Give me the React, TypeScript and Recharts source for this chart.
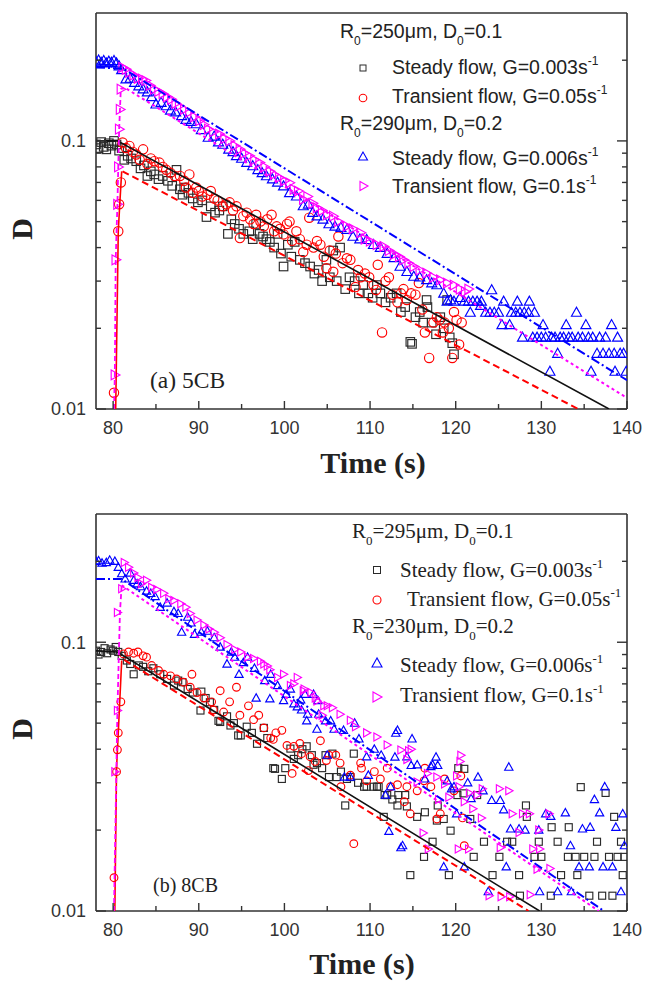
import React from 'react';
import { ScatterChart, Scatter, XAxis, YAxis } from 'recharts';

type P = [number, number];

// ---------- (a) 5CB ----------
const steadyA: P[] = [
  [78.0, 0.097], [78.3, 0.094], [78.6, 0.099], [78.9, 0.095], [79.2, 0.093], [79.5, 0.098], [79.8, 0.096],
  [80.1, 0.1], [80.4, 0.097], [80.7, 0.092], [81.0, 0.094], [81.3, 0.085], [81.7, 0.088], [82.1, 0.086],
  [82.7, 0.084], [83.2, 0.079], [83.6, 0.081], [84.0, 0.074], [84.4, 0.077], [84.8, 0.075], [85.3, 0.072],
  [85.8, 0.074], [86.4, 0.071], [86.9, 0.068], [87.4, 0.078], [87.8, 0.066], [88.1, 0.063], [88.3, 0.067],
  [88.8, 0.064], [89.3, 0.061], [89.9, 0.059], [90.4, 0.06], [90.9, 0.052], [91.4, 0.057], [91.9, 0.054],
  [92.4, 0.055], [92.8, 0.057], [93.4, 0.045], [93.8, 0.051], [94.2, 0.049], [94.7, 0.047], [95.2, 0.045],
  [95.9, 0.046], [96.3, 0.043], [96.7, 0.049], [97.1, 0.045], [97.5, 0.044], [97.9, 0.043], [98.3, 0.042],
  [98.8, 0.04], [99.2, 0.045], [99.6, 0.038], [99.9, 0.034], [100.4, 0.041], [100.8, 0.037], [101.2, 0.042],
  [101.8, 0.036], [102.4, 0.035], [103.0, 0.034], [103.5, 0.032], [104.0, 0.033], [104.4, 0.03], [104.9, 0.036],
  [105.3, 0.031], [105.7, 0.039], [106.1, 0.03], [106.5, 0.04], [107.1, 0.028], [107.6, 0.031], [108.2, 0.03],
  [108.7, 0.027], [109.2, 0.029], [109.8, 0.027], [110.3, 0.026], [110.8, 0.029], [111.2, 0.027], [111.8, 0.025],
  [112.4, 0.026], [113.1, 0.027], [113.6, 0.023], [114.1, 0.024], [114.7, 0.0178], [114.9, 0.0175], [115.3, 0.022],
  [115.8, 0.023], [116.2, 0.021], [116.6, 0.0255], [116.7, 0.024], [117.2, 0.021], [117.7, 0.019], [118.2, 0.022],
  [118.6, 0.02], [119.0, 0.0255], [119.3, 0.0185], [119.6, 0.0176], [119.8, 0.016],
];

const transientA: P[] = [
  [80.1, 0.0115], [80.6, 0.046], [80.7, 0.058], [80.9, 0.07], [81.1, 0.0986], [81.5, 0.094], [81.9, 0.0958],
  [82.3, 0.091], [82.7, 0.089], [83.1, 0.085], [83.5, 0.093], [84.0, 0.082], [84.4, 0.086], [84.8, 0.084],
  [85.4, 0.083], [85.8, 0.08], [86.2, 0.078], [86.7, 0.076], [87.2, 0.074], [87.8, 0.074], [88.3, 0.071],
  [88.5, 0.067], [88.9, 0.075], [89.3, 0.064], [89.7, 0.067], [90.0, 0.065], [90.4, 0.062], [91.0, 0.063],
  [91.4, 0.065], [91.8, 0.061], [92.2, 0.06], [92.8, 0.057], [93.2, 0.058], [93.6, 0.059], [94.0, 0.055],
  [94.4, 0.057], [94.8, 0.0434], [95.2, 0.0524], [95.6, 0.054], [96.0, 0.051], [96.4, 0.049], [96.7, 0.053],
  [97.2, 0.05], [97.6, 0.048], [98.0, 0.051], [98.5, 0.053], [98.8, 0.046], [99.1, 0.048], [99.5, 0.047],
  [99.9, 0.0448], [100.3, 0.049], [100.6, 0.05], [100.9, 0.0424], [101.4, 0.046], [101.8, 0.043], [102.2, 0.0385],
  [102.6, 0.041], [102.9, 0.0517], [103.4, 0.04], [103.8, 0.0423], [104.2, 0.041], [104.6, 0.037], [104.9, 0.0335],
  [105.3, 0.039], [105.7, 0.0325], [106.0, 0.038], [106.3, 0.044], [106.8, 0.035], [107.3, 0.0365], [107.7, 0.036],
  [108.3, 0.0285], [108.6, 0.033], [108.9, 0.031], [109.4, 0.032], [109.9, 0.031], [110.4, 0.029], [110.7, 0.0278],
  [110.9, 0.0345], [111.4, 0.0193], [111.8, 0.03], [112.2, 0.031], [112.6, 0.0267], [113.2, 0.025], [113.6, 0.027],
  [113.9, 0.028], [114.3, 0.0255], [114.8, 0.027], [115.3, 0.0267], [115.7, 0.0295], [116.1, 0.0235], [116.4, 0.0193],
  [116.9, 0.0155], [117.4, 0.021], [117.8, 0.022], [118.1, 0.0215], [118.5, 0.0193], [118.7, 0.021], [119.2, 0.02],
  [119.6, 0.0155], [119.8, 0.023], [120.1, 0.0215], [120.4, 0.0174], [120.7, 0.021],
];

const steadyUpA: P[] = [
  [78.0, 0.197], [78.3, 0.2], [78.6, 0.196], [78.9, 0.199], [79.2, 0.195], [79.5, 0.198], [79.8, 0.196],
  [80.1, 0.199], [80.4, 0.195], [80.7, 0.19], [81.0, 0.184], [81.5, 0.17], [82.0, 0.171], [82.5, 0.165],
  [83.0, 0.16], [83.5, 0.156], [84.0, 0.152], [84.5, 0.146], [85.0, 0.137], [85.6, 0.139], [86.2, 0.135],
  [86.7, 0.13], [87.3, 0.128], [88.0, 0.124], [88.5, 0.12], [89.1, 0.118], [89.7, 0.1156], [90.3, 0.11],
  [91.1, 0.103], [91.8, 0.104], [92.3, 0.099], [92.8, 0.097], [93.5, 0.093], [94.0, 0.091], [94.4, 0.0879],
  [95.0, 0.086], [95.6, 0.083], [96.3, 0.0806], [96.9, 0.078], [97.4, 0.076], [97.9, 0.074], [98.6, 0.072],
  [99.2, 0.07], [99.9, 0.0678], [100.6, 0.064], [101.4, 0.0622], [102.2, 0.0572], [102.8, 0.058], [103.3, 0.054],
  [103.8, 0.0524], [104.5, 0.051], [105.2, 0.049], [105.9, 0.048], [106.6, 0.0475], [107.3, 0.0467], [108.0, 0.044],
  [108.8, 0.043], [109.6, 0.0428], [110.4, 0.041], [111.2, 0.04], [112.0, 0.038], [112.8, 0.0366], [113.5, 0.034],
  [114.3, 0.0325], [115.1, 0.0312], [115.8, 0.031], [116.6, 0.0303], [117.2, 0.0295], [117.8, 0.029], [118.6, 0.027],
  [119.0, 0.0252], [119.4, 0.0255], [119.8, 0.0252], [120.5, 0.026], [121.0, 0.0252], [121.5, 0.0252], [121.7, 0.0229],
  [122.0, 0.0252], [122.5, 0.0252], [122.9, 0.0243], [123.0, 0.0252], [123.5, 0.0229], [124.0, 0.0229], [124.2, 0.0278],
  [124.5, 0.0229], [125.0, 0.0229], [125.4, 0.0206], [125.6, 0.0252], [126.3, 0.0206], [126.5, 0.0229], [127.0, 0.0229],
  [127.2, 0.0252], [127.5, 0.0229], [127.8, 0.0185], [128.0, 0.0229], [128.5, 0.0229], [128.6, 0.0252], [129.0, 0.0185],
  [129.2, 0.0229], [129.5, 0.0185], [130.0, 0.0185], [130.2, 0.0206], [130.5, 0.0185], [131.0, 0.0138], [131.2, 0.0185],
  [131.6, 0.0185], [131.9, 0.0161], [132.2, 0.0185], [132.6, 0.0185], [132.9, 0.0206], [133.2, 0.0185], [133.6, 0.0185],
  [134.1, 0.0229], [134.3, 0.0185], [134.8, 0.0185], [135.2, 0.0206], [135.5, 0.0185], [135.8, 0.0138], [136.0, 0.0185],
  [136.5, 0.0161], [136.8, 0.0185], [137.2, 0.0161], [137.5, 0.0185], [137.9, 0.0161], [138.2, 0.0206], [138.5, 0.0161],
  [138.6, 0.0138], [138.9, 0.0185], [139.2, 0.0161], [139.6, 0.0161], [139.9, 0.0138],
];

const transientRightA: P[] = [
  [80.2, 0.0134], [80.3, 0.036], [80.5, 0.058], [80.6, 0.08], [80.7, 0.1106], [80.8, 0.131], [80.9, 0.156],
  [81.1, 0.188], [81.5, 0.185], [81.9, 0.18], [82.4, 0.176], [82.9, 0.171], [83.4, 0.17], [83.8, 0.168],
  [84.3, 0.161], [84.8, 0.156], [85.3, 0.153], [85.8, 0.15], [86.3, 0.146], [86.8, 0.143], [87.3, 0.138],
  [87.7, 0.135], [88.3, 0.131], [88.9, 0.128], [89.5, 0.123], [90.1, 0.119], [90.6, 0.115], [91.1, 0.1106],
  [91.7, 0.108], [92.4, 0.106], [93.0, 0.102], [93.6, 0.1], [94.2, 0.096], [94.8, 0.093], [95.3, 0.09],
  [95.9, 0.088], [96.5, 0.085], [97.1, 0.083], [97.7, 0.08], [98.3, 0.077], [98.8, 0.075], [99.4, 0.073],
  [100.0, 0.071], [100.6, 0.0698], [101.1, 0.066], [101.6, 0.065], [102.2, 0.0605], [102.7, 0.062], [103.3, 0.0585],
  [103.8, 0.0563], [104.4, 0.055], [105.0, 0.053], [105.7, 0.0524], [106.3, 0.05], [107.3, 0.048], [108.0, 0.047],
  [108.9, 0.0454], [109.4, 0.043], [110.0, 0.0423], [110.8, 0.041], [111.6, 0.0404], [112.2, 0.039], [112.8, 0.0377],
  [113.4, 0.037], [113.9, 0.036], [114.5, 0.035], [115.1, 0.034], [115.8, 0.033], [116.6, 0.0321], [117.4, 0.031],
  [118.2, 0.0303], [119.0, 0.0295], [119.8, 0.029], [120.5, 0.028], [121.1, 0.0274], [121.5, 0.028],
];

const fitBlackA: P[] = [[78, 0.1], [80.5, 0.1], [137.9, 0.01]];
const fitRedA: P[] = [[81.1, 0.077], [134.3, 0.01]];
const riseRedA: P[] = [[80.3, 0.01], [80.6, 0.046], [80.8, 0.06], [81.0, 0.077]];
const fitBlueA: P[] = [[78, 0.188], [81.2, 0.186], [140, 0.0128]];
const riseMagA: P[] = [[80.1, 0.01], [80.2, 0.0134], [80.3, 0.036], [80.5, 0.058], [80.6, 0.08], [80.7, 0.11], [80.9, 0.157]];
const fitMagA: P[] = [[80.9, 0.157], [81.5, 0.157], [140, 0.011]];

// ---------- (b) 8CB ----------
const steadyB: P[] = [
  [78.0, 0.093], [78.3, 0.09], [78.6, 0.092], [79.0, 0.095], [79.3, 0.091], [79.7, 0.094], [80.0, 0.093],
  [80.3, 0.096], [80.6, 0.092], [81.0, 0.089], [81.6, 0.0855], [82.0, 0.083], [82.4, 0.076], [83.0, 0.082],
  [83.5, 0.081], [84.1, 0.078], [84.7, 0.08], [85.5, 0.076], [86.3, 0.073], [87.1, 0.069], [87.6, 0.072],
  [88.1, 0.071], [88.7, 0.067], [89.3, 0.065], [90.2, 0.0557], [90.3, 0.0655], [90.8, 0.062], [91.3, 0.0598],
  [91.8, 0.056], [92.3, 0.051], [92.5, 0.0505], [93.3, 0.053], [93.7, 0.049], [94.1, 0.05], [94.6, 0.045],
  [94.9, 0.045], [95.6, 0.0485], [96.2, 0.046], [96.8, 0.0419], [97.6, 0.048], [98.0, 0.044], [98.7, 0.034],
  [98.9, 0.0338], [99.7, 0.031], [100.1, 0.034], [100.7, 0.0402], [101.1, 0.0368], [101.6, 0.038], [102.1, 0.04],
  [102.6, 0.041], [103.2, 0.038], [103.4, 0.035], [103.8, 0.0355], [104.4, 0.034], [104.8, 0.038], [105.2, 0.0315],
  [105.6, 0.0385], [106.1, 0.0315], [106.6, 0.033], [107.1, 0.0247], [107.3, 0.031], [107.7, 0.0315], [108.1, 0.0385],
  [108.6, 0.03], [109.3, 0.029], [109.6, 0.029], [110.4, 0.029], [110.8, 0.029], [111.0, 0.029], [111.6, 0.0224],
  [111.7, 0.027], [112.0, 0.027], [112.6, 0.026], [113.2, 0.0247], [113.3, 0.027], [114.1, 0.027], [114.3, 0.0245],
  [114.7, 0.0136], [115.5, 0.0224], [116.3, 0.0159], [116.4, 0.0233], [117.3, 0.0181], [117.8, 0.0217], [117.9, 0.0247],
  [118.6, 0.022], [119.2, 0.0136], [119.4, 0.0199], [120.2, 0.027], [120.3, 0.034], [120.9, 0.0274], [121.0, 0.0338],
  [121.7, 0.022], [122.1, 0.0159], [122.5, 0.027], [123.3, 0.0181], [124.3, 0.0136], [125.1, 0.0159], [126.0, 0.0181],
  [126.6, 0.0181], [127.4, 0.0136], [127.5, 0.0114], [128.2, 0.0247], [128.3, 0.0224], [129.2, 0.0159], [129.7, 0.0181],
  [130.0, 0.0159], [131.1, 0.0114], [131.2, 0.0205], [131.9, 0.0181], [132.3, 0.0136], [133.1, 0.0159], [133.2, 0.0205],
  [134.0, 0.0159], [134.2, 0.0136], [134.6, 0.0289], [135.0, 0.0159], [135.6, 0.0114], [136.2, 0.0159], [136.5, 0.0181],
  [137.1, 0.0114], [137.5, 0.0275], [137.9, 0.0159], [138.3, 0.0114], [138.5, 0.0224], [138.9, 0.0159], [139.3, 0.0181],
  [139.5, 0.0136], [139.7, 0.0159],
];

const transientB: P[] = [
  [80.1, 0.0133], [80.4, 0.033], [80.5, 0.0398], [80.6, 0.046], [80.9, 0.06], [81.2, 0.0905], [81.8, 0.092],
  [82.4, 0.091], [82.9, 0.092], [83.5, 0.089], [83.9, 0.088], [84.5, 0.0819], [85.3, 0.0785], [85.9, 0.076],
  [86.7, 0.075], [87.4, 0.073], [88.2, 0.071], [89.0, 0.068], [89.2, 0.076], [89.8, 0.065], [90.6, 0.062],
  [91.5, 0.06], [91.7, 0.056], [92.5, 0.066], [92.9, 0.055], [93.6, 0.06], [94.4, 0.068], [94.8, 0.0535],
  [95.8, 0.058], [96.4, 0.0515], [97.0, 0.0535], [97.6, 0.048], [98.4, 0.044], [98.7, 0.0435], [99.0, 0.046],
  [99.7, 0.047], [100.3, 0.0413], [100.9, 0.0325], [101.1, 0.041], [101.8, 0.042], [102.0, 0.0385], [102.8, 0.0333],
  [103.0, 0.0375], [103.6, 0.036], [104.2, 0.043], [104.9, 0.0363], [105.2, 0.038], [106.0, 0.038], [106.5, 0.0355],
  [106.6, 0.029], [107.7, 0.032], [108.1, 0.0178], [108.9, 0.0355], [109.0, 0.034], [109.6, 0.0305], [110.5, 0.033],
  [111.2, 0.031], [112.0, 0.034], [112.4, 0.029], [113.2, 0.0295], [114.0, 0.0255], [114.3, 0.029], [114.7, 0.023],
  [115.5, 0.028], [116.3, 0.0305], [116.4, 0.034], [117.1, 0.029], [117.8, 0.022], [118.2, 0.023], [118.7, 0.031],
  [119.8, 0.028], [120.6, 0.0318], [120.8, 0.0222], [121.0, 0.0175],
];

const steadyUpB: P[] = [
  [78.0, 0.2], [78.3, 0.201], [78.7, 0.197], [79.2, 0.198], [79.6, 0.202], [80.2, 0.2], [80.6, 0.19],
  [81.0, 0.18], [81.4, 0.172], [82.0, 0.181], [82.4, 0.17], [82.8, 0.165], [83.2, 0.161], [83.9, 0.155],
  [84.4, 0.152], [84.9, 0.148], [85.5, 0.135], [86.3, 0.14], [87.1, 0.13], [87.6, 0.128], [88.0, 0.109],
  [88.7, 0.124], [89.1, 0.118], [89.5, 0.107], [90.3, 0.109], [91.0, 0.11], [91.8, 0.104], [92.5, 0.096],
  [93.3, 0.083], [93.8, 0.092], [94.2, 0.088], [94.7, 0.076], [95.2, 0.084], [95.7, 0.088], [96.5, 0.08],
  [96.7, 0.062], [97.7, 0.072], [98.3, 0.0616], [98.4, 0.076], [99.2, 0.069], [99.9, 0.0607], [100.2, 0.064],
  [100.7, 0.067], [101.1, 0.059], [101.5, 0.0575], [101.9, 0.061], [102.0, 0.056], [102.4, 0.064], [102.6, 0.051],
  [102.7, 0.054], [103.4, 0.064], [103.8, 0.0475], [103.9, 0.0607], [104.0, 0.054], [104.8, 0.051], [105.0, 0.038],
  [105.4, 0.051], [105.8, 0.0475], [106.9, 0.047], [107.0, 0.0315], [107.7, 0.0315], [108.2, 0.05], [108.7, 0.0437],
  [109.6, 0.0375], [109.8, 0.032], [110.5, 0.04], [111.3, 0.038], [111.8, 0.027], [112.2, 0.0198], [112.4, 0.029],
  [112.9, 0.0374], [113.0, 0.0459], [113.2, 0.047], [113.6, 0.0172], [113.8, 0.0175], [114.3, 0.0375], [114.8, 0.0348],
  [114.9, 0.0437], [115.5, 0.035], [116.4, 0.031], [117.1, 0.0345], [117.3, 0.035], [117.7, 0.0374], [117.9, 0.0348],
  [118.6, 0.0146], [119.0, 0.0305], [119.5, 0.0285], [119.8, 0.029], [120.1, 0.023], [121.0, 0.0146], [121.4, 0.03],
  [121.8, 0.0262], [122.6, 0.0315], [123.2, 0.028], [123.8, 0.0118], [124.2, 0.0258], [125.2, 0.0258], [125.6, 0.0238],
  [125.9, 0.0146], [126.2, 0.0343], [126.4, 0.0202], [127.4, 0.0202], [128.1, 0.02], [129.7, 0.02], [129.8, 0.0118],
  [130.5, 0.023], [131.1, 0.0225], [131.9, 0.0118], [132.8, 0.0232], [133.4, 0.0175], [133.5, 0.0118], [134.4, 0.0146],
  [134.8, 0.0202], [135.6, 0.0146], [135.7, 0.0205], [136.2, 0.026], [136.8, 0.0232], [137.2, 0.0146], [137.4, 0.029],
  [138.3, 0.0146], [138.7, 0.0205], [139.3, 0.0118], [139.5, 0.023], [139.7, 0.0175],
];

const transientRightB: P[] = [
  [80.2, 0.033], [80.5, 0.0557], [80.5, 0.129], [81.0, 0.158], [81.3, 0.198], [81.8, 0.19], [82.4, 0.181],
  [82.9, 0.174], [83.3, 0.165], [83.9, 0.17], [84.5, 0.16], [85.1, 0.157], [85.9, 0.152], [86.5, 0.145],
  [87.1, 0.143], [87.9, 0.139], [88.5, 0.135], [89.0, 0.128], [89.8, 0.121], [90.6, 0.116], [91.2, 0.112],
  [91.8, 0.109], [92.5, 0.104], [93.3, 0.098], [94.2, 0.094], [94.9, 0.092], [95.7, 0.088], [96.4, 0.087],
  [97.2, 0.085], [97.6, 0.083], [98.0, 0.0815], [98.3, 0.079], [99.2, 0.074], [99.9, 0.076], [100.7, 0.069],
  [101.1, 0.07], [101.5, 0.074], [102.2, 0.066], [102.3, 0.067], [103.1, 0.065], [103.6, 0.062], [103.8, 0.0605],
  [104.4, 0.0535], [104.6, 0.058], [105.0, 0.058], [105.6, 0.057], [106.5, 0.054], [107.7, 0.0512], [108.3, 0.0485],
  [109.6, 0.046], [110.8, 0.0444], [112.0, 0.0415], [113.6, 0.0397], [114.3, 0.0366], [114.5, 0.0395], [114.8, 0.04],
  [115.5, 0.0302], [116.2, 0.0195], [116.7, 0.0325], [116.8, 0.017], [117.8, 0.0315], [118.0, 0.026], [118.7, 0.0297],
  [119.2, 0.0265], [120.1, 0.0318], [120.3, 0.017], [120.4, 0.029], [120.5, 0.036], [120.6, 0.038], [121.0, 0.0255],
  [121.5, 0.017], [121.6, 0.0275], [122.0, 0.024], [122.5, 0.027], [123.0, 0.0222], [123.1, 0.0285], [123.9, 0.0114],
  [125.1, 0.0285], [125.2, 0.0172], [125.3, 0.0113], [126.2, 0.028], [126.3, 0.0113], [126.6, 0.023], [127.4, 0.0196],
  [127.8, 0.023], [128.6, 0.023], [128.7, 0.0115], [129.0, 0.017], [129.5, 0.0143], [129.7, 0.02], [129.8, 0.017],
  [130.9, 0.023], [131.0, 0.0144],
];

const fitBlackB: P[] = [[78, 0.093], [80.5, 0.092], [129.8, 0.01]];
const fitRedB: P[] = [[81.3, 0.086], [128.5, 0.01]];
const riseRedB: P[] = [[80.2, 0.01], [80.4, 0.034], [80.6, 0.046], [81.0, 0.0855]];
const fitBlueB: P[] = [[78, 0.172], [81, 0.172], [137.3, 0.01]];
const riseMagB: P[] = [[80.1, 0.01], [80.5, 0.0557], [80.8, 0.13], [81.0, 0.163]];
const fitMagB: P[] = [[81.0, 0.163], [136.7, 0.01]];

const X_TICKS = [80, 85, 90, 95, 100, 105, 110, 115, 120, 125, 130, 135, 140];
const X_LABELS = [80, 90, 100, 110, 120, 130, 140];
const Y_TICKS = [0.01, 0.02, 0.03, 0.04, 0.05, 0.06, 0.07, 0.08, 0.09, 0.1, 0.2];
const Y_LABELS = [0.01, 0.1];

const AX = '#333';
const SANS = '"Liberation Sans", Arial, sans-serif';
const SERIF = '"Liberation Serif", "Times New Roman", serif';
const RED = '#ff0000';
const BLUE = '#0000ff';
const MAG = '#ff00ff';
const BLK = '#2a2a2a';

const rows = (a: P[]) => a.map(([x, y]) => ({ x, y }));

type Kind = 'square' | 'circle' | 'up' | 'right';

const marker = (kind: Kind, color: string, s: number) => (p: any) => {
  const { cx, cy } = p;
  if (typeof cx !== 'number' || typeof cy !== 'number') return <g />;
  const h = s / 2;
  const st = { fill: 'none', stroke: color, strokeWidth: 1.15 };
  if (kind === 'square') return <rect x={cx - h} y={cy - h} width={s} height={s} {...st} />;
  if (kind === 'circle') return <circle cx={cx} cy={cy} r={h} {...st} />;
  if (kind === 'up')
    return <polygon points={`${cx},${cy - h * 1.05} ${cx - h},${cy + h * 0.75} ${cx + h},${cy + h * 0.75}`} {...st} />;
  return <polygon points={`${cx + h * 1.05},${cy} ${cx - h * 0.75},${cy - h} ${cx - h * 0.75},${cy + h}`} {...st} />;
};

const noShape = () => <g />;

function BottomTick(p: any) {
  const v = p.payload.value;
  const major = X_LABELS.includes(v);
  return (
    <g>
      <line x1={p.x} x2={p.x} y1={p.y} y2={p.y - (major ? 8 : 5)} stroke={AX} strokeWidth={1.4} />
      {major ? (
        <text x={p.x} y={p.y + 24.5} textAnchor="middle" fontSize={18} fontFamily={SANS} fill={AX}>
          {v}
        </text>
      ) : null}
    </g>
  );
}

function TopTick(p: any) {
  const major = X_LABELS.includes(p.payload.value);
  return <line x1={p.x} x2={p.x} y1={p.y} y2={p.y + (major ? 8 : 5)} stroke={AX} strokeWidth={1.4} />;
}

function LeftTick(p: any) {
  const v = p.payload.value;
  const major = Y_LABELS.includes(v);
  return (
    <g>
      <line x1={p.x} x2={p.x + (major ? 10 : 5)} y1={p.y} y2={p.y} stroke={AX} strokeWidth={1.4} />
      {major ? (
        <text x={p.x - 10} y={p.y} dy="0.35em" textAnchor="end" fontSize={18} fontFamily={SANS} fill={AX}>
          {v}
        </text>
      ) : null}
    </g>
  );
}

function RightTick(p: any) {
  const major = Y_LABELS.includes(p.payload.value);
  return <line x1={p.x} x2={p.x - (major ? 10 : 5)} y1={p.y} y2={p.y} stroke={AX} strokeWidth={1.4} />;
}

type PanelProps = {
  top: number;
  topPad: number;
  bottomPad: number;
  ms: number;
  steady: P[];
  transient: P[];
  steadyUp: P[];
  transientRight: P[];
  fitBlack: P[];
  fitRed: P[];
  riseRed: P[];
  fitBlue: P[];
  riseMag: P[];
  fitMag: P[];
};

function Panel(pp: PanelProps) {
  const axisLine = { stroke: AX, strokeWidth: 1.6 };
  const lineSeries = (data: P[], stroke: string, dash?: string, w = 1.8) => (
    <Scatter
      data={rows(data)}
      fill="none"
      shape={noShape}
      line={{ stroke, strokeWidth: w, strokeDasharray: dash, fill: 'none' }}
      isAnimationActive={false}
      legendType="none"
    />
  );
  return (
    <div style={{ position: 'absolute', left: 0, top: pp.top }}>
      <ScatterChart width={645} height={490} margin={{ top: 0, right: 0, bottom: 0, left: 0 }}>
        <XAxis
          dataKey="x"
          type="number"
          domain={[78, 140]}
          ticks={X_TICKS}
          interval={0}
          allowDataOverflow
          height={pp.bottomPad}
          tickSize={0}
          tickMargin={0}
          tickLine={false}
          axisLine={axisLine}
          tick={BottomTick}
        />
        <XAxis
          xAxisId="top"
          orientation="top"
          type="number"
          domain={[78, 140]}
          ticks={X_TICKS}
          interval={0}
          allowDataOverflow
          height={pp.topPad}
          tickSize={0}
          tickMargin={0}
          tickLine={false}
          axisLine={axisLine}
          tick={TopTick}
        />
        <YAxis
          dataKey="y"
          type="number"
          scale="log"
          domain={[0.01, 0.3]}
          ticks={Y_TICKS}
          interval={0}
          allowDataOverflow
          width={96}
          tickSize={0}
          tickMargin={0}
          tickLine={false}
          axisLine={axisLine}
          tick={LeftTick}
        />
        <YAxis
          yAxisId="right"
          orientation="right"
          type="number"
          scale="log"
          domain={[0.01, 0.3]}
          ticks={Y_TICKS}
          interval={0}
          allowDataOverflow
          width={18}
          tickSize={0}
          tickMargin={0}
          tickLine={false}
          axisLine={axisLine}
          tick={RightTick}
        />
        <Scatter data={rows(pp.steady)} shape={marker('square', BLK, pp.ms)} isAnimationActive={false} />
        <Scatter data={rows(pp.transient)} shape={marker('circle', RED, pp.ms * 1.1)} isAnimationActive={false} />
        <Scatter data={rows(pp.steadyUp)} shape={marker('up', BLUE, pp.ms * 1.18)} isAnimationActive={false} />
        <Scatter data={rows(pp.transientRight)} shape={marker('right', MAG, pp.ms * 1.15)} isAnimationActive={false} />
        {lineSeries(pp.fitBlack, '#111', undefined, 1.6)}
        {lineSeries(pp.fitRed, RED, '7 4', 2)}
        {lineSeries(pp.riseRed, RED, undefined, 1.6)}
        {lineSeries(pp.fitBlue, BLUE, '9 3 2 3', 2)}
        {lineSeries(pp.riseMag, MAG, '5 3', 1.8)}
        {lineSeries(pp.fitMag, MAG, '3 3', 2)}
      </ScatterChart>
    </div>
  );
}

export default function App() {
  const legA = { fontFamily: SANS, fontSize: 19.5, fill: '#222' };
  const legB = { fontFamily: SERIF, fontSize: 21, fill: '#222' };
  const title = { fontFamily: SERIF, fontSize: 30, fontWeight: 700, fill: '#222' };
  return (
    <div style={{ position: 'absolute', left: 0, top: 0, width: 645, height: 982, background: '#fff', overflow: 'hidden' }}>
      <Panel
        top={0}
        topPad={13}
        bottomPad={81}
        ms={8.5}
        steady={steadyA}
        transient={transientA}
        steadyUp={steadyUpA}
        transientRight={transientRightA}
        fitBlack={fitBlackA}
        fitRed={fitRedA}
        riseRed={riseRedA}
        fitBlue={fitBlueA}
        riseMag={riseMagA}
        fitMag={fitMagA}
      />
      <Panel
        top={500}
        topPad={14}
        bottomPad={79}
        ms={7}
        steady={steadyB}
        transient={transientB}
        steadyUp={steadyUpB}
        transientRight={transientRightB}
        fitBlack={fitBlackB}
        fitRed={fitRedB}
        riseRed={riseRedB}
        fitBlue={fitBlueB}
        riseMag={riseMagB}
        fitMag={fitMagB}
      />
      <svg width={645} height={982} style={{ position: 'absolute', left: 0, top: 0, pointerEvents: 'none' }}>
        {/* legend (a) */}
        <text x={340} y={38} {...legA}>
          R<tspan dy={7} fontSize={12}>0</tspan>
          <tspan dy={-7}>=250μm, D</tspan>
          <tspan dy={7} fontSize={12}>0</tspan>
          <tspan dy={-7}>=0.1</tspan>
        </text>
        <rect x={360} y={65} width={6} height={6} fill="none" stroke={BLK} strokeWidth={1} />
        <text x={392} y={74} {...legA}>
          Steady flow, G=0.003s<tspan dy={-9} fontSize={12}>-1</tspan>
        </text>
        <circle cx={363} cy={98} r={3.8} fill="none" stroke={RED} strokeWidth={1.1} />
        <text x={392} y={103} {...legA}>
          Transient flow, G=0.05s<tspan dy={-9} fontSize={12}>-1</tspan>
        </text>
        <text x={340} y={130} {...legA}>
          R<tspan dy={7} fontSize={12}>0</tspan>
          <tspan dy={-7}>=290μm, D</tspan>
          <tspan dy={7} fontSize={12}>0</tspan>
          <tspan dy={-7}>=0.2</tspan>
        </text>
        <polygon points="363,152 358.5,160 367.5,160" fill="none" stroke={BLUE} strokeWidth={1.1} />
        <text x={392} y={165} {...legA}>
          Steady flow, G=0.006s<tspan dy={-9} fontSize={12}>-1</tspan>
        </text>
        <polygon points="368,186 360,181.5 360,190.5" fill="none" stroke={MAG} strokeWidth={1.1} />
        <text x={392} y={193} {...legA}>
          Transient flow, G=0.1s<tspan dy={-9} fontSize={12}>-1</tspan>
        </text>
        <text x={150} y={388} fontFamily={SERIF} fontSize={23.5} fill="#222">
          (a) 5CB
        </text>

        {/* legend (b) */}
        <text x={352} y={538} {...legB}>
          R<tspan dy={7} fontSize={13}>0</tspan>
          <tspan dy={-7}>=295μm, D</tspan>
          <tspan dy={7} fontSize={13}>0</tspan>
          <tspan dy={-7}>=0.1</tspan>
        </text>
        <rect x={373.5} y={566.5} width={7} height={7} fill="none" stroke={BLK} strokeWidth={1} />
        <text x={400} y={577} {...legB}>
          Steady flow, G=0.003s<tspan dy={-9} fontSize={13}>-1</tspan>
        </text>
        <circle cx={377} cy={600} r={4} fill="none" stroke={RED} strokeWidth={1.1} />
        <text x={407} y={606} {...legB}>
          Transient flow, G=0.05s<tspan dy={-9} fontSize={13}>-1</tspan>
        </text>
        <text x={352} y={633} {...legB}>
          R<tspan dy={7} fontSize={13}>0</tspan>
          <tspan dy={-7}>=230μm, D</tspan>
          <tspan dy={7} fontSize={13}>0</tspan>
          <tspan dy={-7}>=0.2</tspan>
        </text>
        <polygon points="377,658 372,667 382,667" fill="none" stroke={BLUE} strokeWidth={1.1} />
        <text x={400} y={672} {...legB}>
          Steady flow, G=0.006s<tspan dy={-9} fontSize={13}>-1</tspan>
        </text>
        <polygon points="382,697 373,692 373,702" fill="none" stroke={MAG} strokeWidth={1.1} />
        <text x={400} y={702} {...legB}>
          Transient flow, G=0.1s<tspan dy={-9} fontSize={13}>-1</tspan>
        </text>
        <text x={153} y={892} fontFamily={SERIF} fontSize={20} fill="#222">
          (b) 8CB
        </text>

        {/* axis titles */}
        <text x={373} y={473} textAnchor="middle" {...title}>
          Time (s)
        </text>
        <text x={362} y={974} textAnchor="middle" {...title}>
          Time (s)
        </text>
        <text transform="translate(32,229) rotate(-90)" textAnchor="middle" {...title}>
          D
        </text>
        <text transform="translate(32,729) rotate(-90)" textAnchor="middle" {...title}>
          D
        </text>
      </svg>
    </div>
  );
}
